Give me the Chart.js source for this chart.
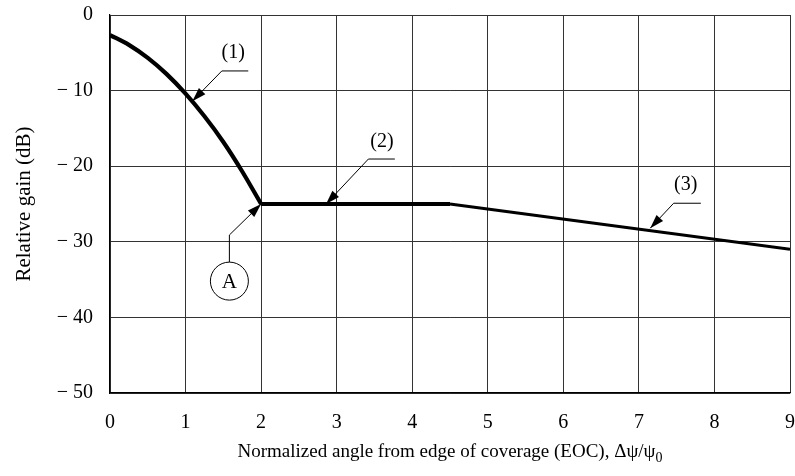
<!DOCTYPE html>
<html>
<head>
<meta charset="utf-8">
<script src="https://cdn.jsdelivr.net/npm/chart.js@4.4.1/dist/chart.umd.min.js"></script>
<style>
  html, body { margin: 0; padding: 0; background: #fff; }
  #c { display: block; }
</style>
</head>
<body>
<canvas id="c" width="795" height="476"></canvas>
<script>
// ---- Data ----
const angle1 = [0, 0.25, 0.5, 0.75, 1, 1.25, 1.5, 1.75, 2];
const gain1  = [-2.65, -3.95, -5.67, -7.82, -10.4, -13.4, -16.8, -20.7, -25];
const angle2 = [2, 4.5];
const gain2  = [-25, -25];
const angle3 = [4.5, 9];
const gain3  = [-25, -31];
const xTickValues = [0, 1, 2, 3, 4, 5, 6, 7, 8, 9];
const yTickValues = [0, -10, -20, -30, -40, -50];
const xTitle = 'Normalized angle from edge of coverage (EOC), \u0394\u03C8/\u03C8';
const xTitleSub = '0';
const yTitle = 'Relative gain (dB)';
const calloutLabels = ['(1)', '(2)', '(3)'];
const pointLabel = 'A';

const FONT = '"Liberation Serif", "Times New Roman", serif';

function pts(xs, ys) { return xs.map((x, i) => ({ x: x, y: ys[i] })); }

// callout anchors in data units: text centre, leader line, arrow tip
const callouts = [
  { text: calloutLabels[0], tx: 1.63, ty: -5.0,  lx0: 1.48, lx1: 1.83, ly: -7.4,  ax: 1.09, ay: -11.4 },
  { text: calloutLabels[1], tx: 3.60, ty: -16.8, lx0: 3.42, lx1: 3.77, ly: -19.05, ax: 2.86, ay: -25 },
  { text: calloutLabels[2], tx: 7.62, ty: -22.5, lx0: 7.46, lx1: 7.82, ly: -24.9, ax: 7.15, ay: -28.2 }
];
const pointA = { cx: 1.58, cy: -35.2, r: 19, vy: -29.1, ax: 2, ay: -25 };

function arrowHead(ctx, x0, y0, x1, y1) {
  const ang = Math.atan2(y1 - y0, x1 - x0);
  const len = 14, hw = 4.5;
  ctx.beginPath();
  ctx.moveTo(x1, y1);
  ctx.lineTo(x1 - len * Math.cos(ang) + hw * Math.sin(ang), y1 - len * Math.sin(ang) - hw * Math.cos(ang));
  ctx.lineTo(x1 - len * Math.cos(ang) - hw * Math.sin(ang), y1 - len * Math.sin(ang) + hw * Math.cos(ang));
  ctx.closePath();
  ctx.fill();
}

const annotationPlugin = {
  id: 'annotations',
  afterDraw(chart) {
    const ctx = chart.ctx;
    const xs = chart.scales.x, ys = chart.scales.y;
    const X = v => xs.getPixelForValue(v), Y = v => ys.getPixelForValue(v);
    ctx.save();
    ctx.fillStyle = '#000';
    ctx.strokeStyle = '#000';
    ctx.lineWidth = 1;
    ctx.font = '20px ' + FONT;
    ctx.textAlign = 'center';
    ctx.textBaseline = 'middle';
    callouts.forEach(c => {
      ctx.fillText(c.text, X(c.tx), Y(c.ty));
      ctx.beginPath();
      ctx.moveTo(X(c.lx1), Y(c.ly));
      ctx.lineTo(X(c.lx0), Y(c.ly));
      ctx.lineTo(X(c.ax), Y(c.ay));
      ctx.stroke();
      arrowHead(ctx, X(c.lx0), Y(c.ly), X(c.ax), Y(c.ay));
    });
    // point A
    const cx = X(pointA.cx), cy = Y(pointA.cy);
    ctx.beginPath();
    ctx.arc(cx, cy, pointA.r, 0, Math.PI * 2);
    ctx.stroke();
    ctx.font = '21px ' + FONT;
    ctx.fillText(pointLabel, cx, cy + 1);
    ctx.beginPath();
    ctx.moveTo(cx, cy - pointA.r);
    ctx.lineTo(cx, Y(pointA.vy));
    ctx.lineTo(X(pointA.ax), Y(pointA.ay));
    ctx.stroke();
    arrowHead(ctx, cx, Y(pointA.vy), X(pointA.ax), Y(pointA.ay));

    // x-axis title with subscript
    ctx.font = '19px ' + FONT;
    ctx.textBaseline = 'alphabetic';
    ctx.textAlign = 'left';
    const w1 = ctx.measureText(xTitle).width;
    ctx.font = '14px ' + FONT;
    const w2 = ctx.measureText(xTitleSub).width;
    const mid = (chart.chartArea.left + chart.chartArea.right) / 2;
    const start = mid - (w1 + w2) / 2;
    const base = 457;
    ctx.font = '19px ' + FONT;
    ctx.fillText(xTitle, start, base);
    ctx.font = '14px ' + FONT;
    ctx.fillText(xTitleSub, start + w1, base + 5);
    ctx.restore();
  }
};

const tickFont = { family: FONT, size: 20 };

new Chart(document.getElementById('c'), {
  type: 'scatter',
  data: {
    datasets: [
      { label: '(1)', data: pts(angle1, gain1), showLine: true, borderColor: '#000', borderWidth: 4.2,
        pointRadius: 0, cubicInterpolationMode: 'monotone', fill: false },
      { label: '(2)', data: pts(angle2, gain2), showLine: true, borderColor: '#000', borderWidth: 3.8,
        pointRadius: 0, fill: false },
      { label: '(3)', data: pts(angle3, gain3), showLine: true, borderColor: '#000', borderWidth: 3,
        pointRadius: 0, fill: false }
    ]
  },
  options: {
    responsive: false,
    animation: false,
    devicePixelRatio: 1,
    layout: { padding: { left: 0, right: 5, top: 15, bottom: 0 } },
    plugins: { legend: { display: false }, tooltip: { enabled: false } },
    scales: {
      x: {
        type: 'linear', min: 0, max: 9,
        afterBuildTicks: s => { s.ticks = xTickValues.map(v => ({ value: v })); },
        afterFit: s => { s.height = 83; },
        ticks: { font: tickFont, color: '#000', padding: 0, maxRotation: 0 },
        grid: { color: '#333', lineWidth: 1, drawTicks: true, tickLength: 18, tickColor: 'rgba(0,0,0,0)' },
        border: { color: '#000', width: 1.2 }
      },
      y: {
        type: 'linear', min: -50, max: 0,
        afterBuildTicks: s => { s.ticks = yTickValues.map(v => ({ value: v })); },
        afterFit: s => { s.width = 110; },
        ticks: { font: tickFont, color: '#000', padding: 0,
                 callback: v => v < 0 ? '\u2212 ' + Math.abs(v) : String(v) },
        grid: { color: '#333', lineWidth: 1, drawTicks: true, tickLength: 17, tickColor: 'rgba(0,0,0,0)' },
        border: { color: '#000', width: 1.2 },
        title: { display: true, text: yTitle, font: { family: FONT, size: 21 }, color: '#000',
                 padding: { top: 12, bottom: 0 } }
      }
    }
  },
  plugins: [annotationPlugin]
});
</script>
</body>
</html>
